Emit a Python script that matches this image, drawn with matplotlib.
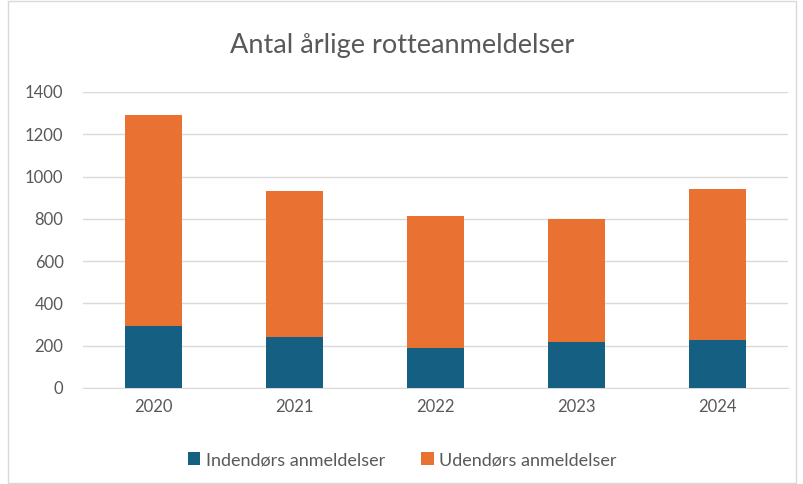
import matplotlib
matplotlib.use('Agg')
import numpy as np
from matplotlib import pyplot as plt
from matplotlib.patches import Rectangle

plt.rcParams['font.family'] = ['Lato', 'DejaVu Sans']

years = ['2020', '2021', '2022', '2023', '2024']
indendors = [293, 239, 187, 217, 228]
udendors = [997, 693, 628, 581, 715]

blue = '#156082'
orange = '#E97132'

fig = plt.figure(figsize=(8.04, 4.84), dpi=100)
ax = fig.add_axes([83 / 804, 1 - 388 / 484, (788 - 83) / 804, (388 - 92) / 484])

x = np.arange(len(years))
ax.bar(x, indendors, width=0.4, color=blue, label='Indendørs anmeldelser', zorder=3)
ax.bar(x, udendors, width=0.4, bottom=indendors, color=orange,
       label='Udendørs anmeldelser', zorder=3)

ax.set_xlim(-0.5, len(years) - 0.5)
ax.set_ylim(0, 1400)
ax.set_yticks(range(0, 1401, 200))
ax.set_xticks(x)
ax.set_xticklabels(years)
ax.tick_params(axis='both', length=0, labelsize=12, colors='#595959')
ax.tick_params(axis='x', pad=8)
ax.tick_params(axis='y', pad=14)
ax.grid(axis='y', color='#d9d9d9', linewidth=1, zorder=0)
for s in ['top', 'right', 'left']:
    ax.spines[s].set_visible(False)
ax.spines['bottom'].set_color('#d9d9d9')

fig.text(0.5, 1 - 45 / 484, 'Antal årlige rotteanmeldelser', ha='center', va='center',
         fontsize=19.5, color='#595959')

fig.legend(loc='center', bbox_to_anchor=(0.5, 1 - 460 / 484), ncol=2, frameon=False,
           fontsize=13, handlelength=0.7, handleheight=0.7, columnspacing=2.0,
           handletextpad=0.3, labelcolor='#595959')

fig.patches.append(Rectangle((8 / 804, 0.002), 1 - 16 / 804, 0.996, transform=fig.transFigure,
                             fill=False, edgecolor='#d9d9d9', linewidth=1))

plt.savefig('out.png', dpi=100)
